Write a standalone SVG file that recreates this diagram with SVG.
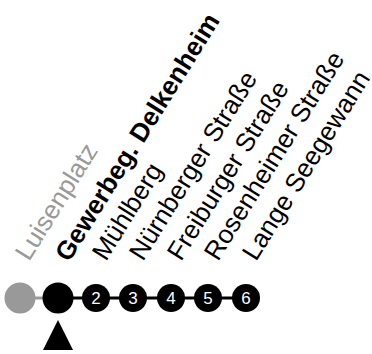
<svg xmlns="http://www.w3.org/2000/svg" width="372" height="354" viewBox="0 0 372 354">
<style>
.lbl{font-family:"Liberation Sans",Arial,sans-serif;font-size:26px;fill:#000}
.past{fill:#999}
.bold{font-weight:bold}
.num{font-family:"Liberation Sans",Arial,sans-serif;font-size:17px;fill:#fff;text-anchor:middle}
</style>
<rect width="372" height="354" fill="#fff"/>
<g id="connectors">
<line x1="20" y1="298" x2="58" y2="298" stroke="#999" stroke-width="3"/>
<line x1="58" y1="298" x2="246" y2="298" stroke="#000" stroke-width="3"/>
</g>
<g id="n0"><circle cx="20" cy="298" r="15.5" fill="#999"/><text class="lbl past" transform="translate(29 262) rotate(-58)">Luisenplatz</text></g>
<g id="n1"><circle cx="58" cy="298" r="15.5" fill="#000"/><text class="lbl bold" transform="translate(69 263) rotate(-58)">Gewerbeg. Delkenheim</text></g>
<g id="n2"><circle cx="96" cy="298" r="14" fill="#000"/><text class="num" x="96" y="304">2</text><text class="lbl" transform="translate(106 262) rotate(-58)">Mühlberg</text></g>
<g id="n3"><circle cx="133" cy="298" r="14" fill="#000"/><text class="num" x="133" y="304">3</text><text class="lbl" transform="translate(143 262) rotate(-58)">Nürnberger Straße</text></g>
<g id="n4"><circle cx="171" cy="298" r="14" fill="#000"/><text class="num" x="171" y="304">4</text><text class="lbl" transform="translate(181 262) rotate(-58)">Freiburger Straße</text></g>
<g id="n5"><circle cx="208" cy="298" r="14" fill="#000"/><text class="num" x="208" y="304">5</text><text class="lbl" transform="translate(218 262) rotate(-58)">Rosenheimer Straße</text></g>
<g id="n6"><circle cx="246" cy="298" r="14" fill="#000"/><text class="num" x="246" y="304">6</text><text class="lbl" transform="translate(256 262) rotate(-58)">Lange Seegewann</text></g>
<g id="marker"><polygon points="58,320 43,350 73,350" fill="#000"/></g>
</svg>
